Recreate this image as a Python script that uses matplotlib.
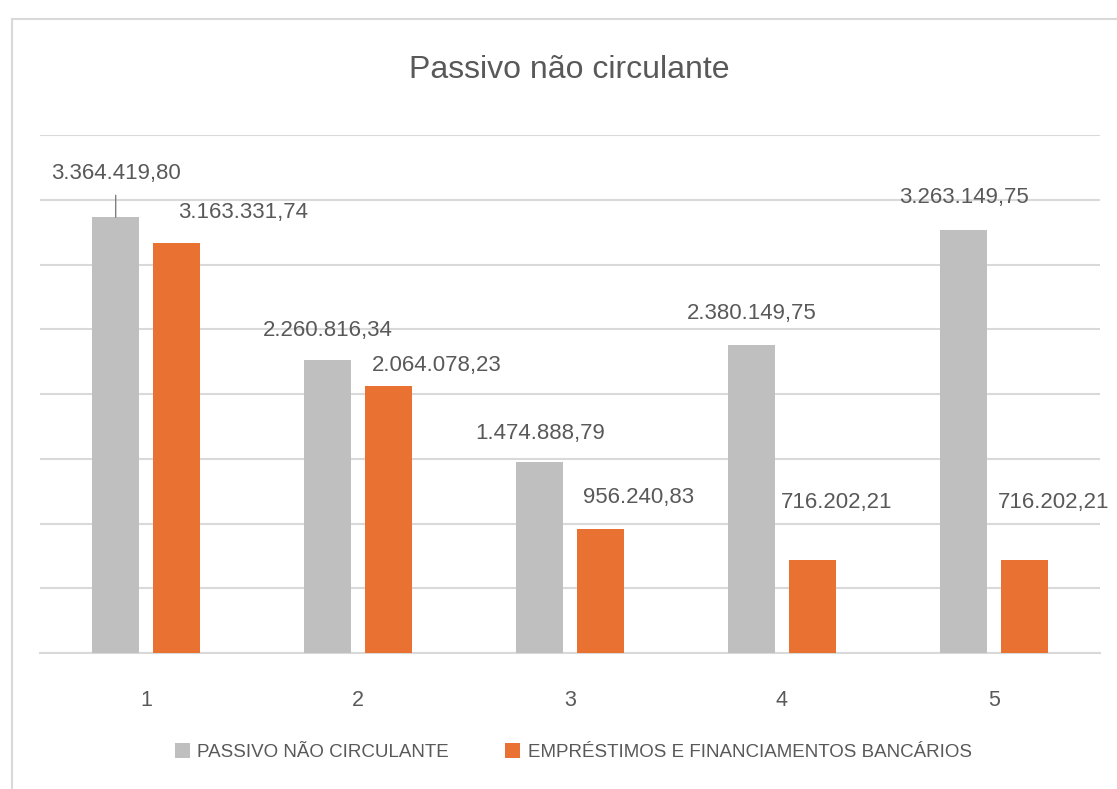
import matplotlib.pyplot as plt
from matplotlib.patches import Rectangle
import numpy as np

FONT = ['Liberation Sans', 'DejaVu Sans']
TEXT_COLOR = '#595959'
GRID_COLOR = '#d9d9d9'

title = 'Passivo não circulante'
categories = ['1', '2', '3', '4', '5']
series_names = ['PASSIVO NÃO CIRCULANTE', 'EMPRÉSTIMOS E FINANCIAMENTOS BANCÁRIOS']
passivo = [3364419.80, 2260816.34, 1474888.79, 2380149.75, 3263149.75]
emprestimos = [3163331.74, 2064078.23, 956240.83, 716202.21, 716202.21]
colors = ['#bfbfbf', '#e97132']

# label offsets in pixels (dx, dy) from top centre of each bar
passivo_offsets = [(0, 44), (0, 30), (0, 29), (0, 31), (0, 33)]
emprestimos_offsets = [(67, 31), (48, 20), (38, 32), (24, 58), (29, 58)]


def fmt_br(value: float) -> str:
    s = f'{value:,.2f}'
    return s.replace(',', '#').replace('.', ',').replace('#', '.')


def add_labels(ax, xs, values, offsets, leader_first=False):
    for i, (x, v, (dx, dy)) in enumerate(zip(xs, values, offsets)):
        ax.annotate(fmt_br(v), xy=(x, v), xytext=(dx, dy), textcoords='offset pixels',
                    ha='center', va='center', fontsize=16, color=TEXT_COLOR)
        if leader_first and i == 0:
            ax.annotate('', xy=(x, v), xytext=(0, 22), textcoords='offset pixels',
                        arrowprops=dict(arrowstyle='-', color='#7f7f7f', lw=1.0,
                                        shrinkA=0, shrinkB=0))


def main() -> None:
    plt.rcParams['font.family'] = FONT
    fig = plt.figure(figsize=(11.17, 7.89), dpi=100)
    top = 1 - 19 / 789
    fig.patches.append(Rectangle((12 / 1117, -0.1), 1.2, top + 0.1,
                                 transform=fig.transFigure, fill=False,
                                 edgecolor=GRID_COLOR, lw=1.5))

    ax = fig.add_axes([40 / 1117, 1 - 653 / 789, (1100 - 40) / 1117, (653 - 135) / 789])
    x = np.arange(1, len(categories) + 1)
    off, width = 0.143, 0.222
    ax.bar(x - off, passivo, width, color=colors[0], label=series_names[0], zorder=3)
    ax.bar(x + off, emprestimos, width, color=colors[1], label=series_names[1], zorder=3)

    add_labels(ax, x - off, passivo, passivo_offsets, leader_first=True)
    add_labels(ax, x + off, emprestimos, emprestimos_offsets)

    ax.set_xlim(0.5, 5.5)
    ax.set_ylim(0, 4000000)
    ax.set_yticks(np.arange(0, 4000001, 500000))
    ax.yaxis.grid(True, color=GRID_COLOR, lw=1.5, zorder=0)
    ax.set_yticklabels([])
    ax.tick_params(axis='y', length=0)
    ax.set_xticks(x)
    ax.set_xticklabels(categories, fontsize=15.5, color=TEXT_COLOR)
    ax.tick_params(axis='x', length=0, pad=27)
    for side in ['top', 'right', 'left']:
        ax.spines[side].set_visible(False)
    ax.spines['bottom'].set_color(GRID_COLOR)
    ax.spines['bottom'].set_linewidth(1.5)
    ax.set_facecolor('none')

    fig.text(569 / 1117, 1 - 70 / 789, title, ha='center', va='center',
             fontsize=23, color=TEXT_COLOR)

    fig.legend(loc='center', bbox_to_anchor=(573 / 1117, 1 - 752 / 789), ncol=2,
               frameon=False, fontsize=13.5, labelcolor=TEXT_COLOR,
               handlelength=0.8, handleheight=0.8, handletextpad=0.4, columnspacing=3.0)

    fig.savefig('out.png', dpi=100)


if __name__ == '__main__':
    main()
